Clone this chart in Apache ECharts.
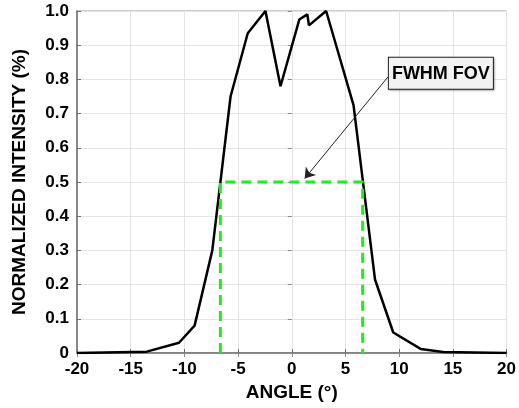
<!DOCTYPE html>
<html><head><meta charset="utf-8">
<script src="https://cdn.jsdelivr.net/npm/echarts@6/dist/echarts.min.js"></script>
<style>html,body{margin:0;padding:0;background:#fff}#c{width:519px;height:408px}</style>
</head><body><div id="c"></div>
<script>
const angles = [-20, -13.5, -10.5, -9.05, -7.4, -5.7, -4.1, -2.45, -1.05, 0.7, 1.45, 1.6, 3.2, 5.75, 7.75, 9.45, 12.0, 14.1, 20];
const intensity = [0, 0.004, 0.03, 0.08, 0.30, 0.75, 0.935, 1.0, 0.78, 0.975, 0.99, 0.958, 1.0, 0.725, 0.215, 0.06, 0.012, 0.003, 0];
const fwhmX = [-6.65, -6.65, 6.6, 6.6];
const fwhmY = [0, 0.5, 0.5, 0];
const xTicks = {min: -20, max: 20, step: 5};
const yTicks = {min: 0, max: 1, step: 0.1};
const annText = 'FWHM FOV';
const arrowFrom = [8.95, 0.807];
const arrowTo = [1.2, 0.51];
const boxAnchor = [8.95, 0.866];

const FONT = 'Liberation Sans, Arial, sans-serif';
const chart = echarts.init(document.getElementById('c'), null, {renderer: 'canvas'});
const gridCol = '#e4e4e4';
const option = {
  animation: false,
  backgroundColor: '#fff',
  grid: {left: 77, right: 7, top: 11, bottom: 55, show: true, borderColor: '#9a9a9a', borderWidth: 1},
  xAxis: [{
    type: 'value', min: xTicks.min, max: xTicks.max, interval: xTicks.step,
    name: 'ANGLE (°)', nameLocation: 'middle', nameGap: 30,
    nameTextStyle: {fontFamily: FONT, fontWeight: 'bold', fontSize: 19, color: '#000'},
    axisLine: {onZero: false, lineStyle: {color: '#6e6e6e', width: 1.5}},
    axisTick: {inside: true, length: 4, lineStyle: {color: '#6e6e6e'}},
    axisLabel: {fontFamily: FONT, fontWeight: 'bold', fontSize: 17, color: '#000', margin: 8},
    splitLine: {lineStyle: {color: gridCol}}
  }, {
    type: 'value', position: 'top', min: xTicks.min, max: xTicks.max, interval: xTicks.step,
    axisLine: {show: false}, axisTick: {inside: true, length: 4, lineStyle: {color: '#8a8a8a'}},
    axisLabel: {show: false}, splitLine: {show: false}
  }],
  yAxis: [{
    type: 'value', min: yTicks.min, max: yTicks.max, interval: yTicks.step,
    name: 'NORMALIZED INTENSITY (%)', nameLocation: 'middle', nameGap: 48,
    nameTextStyle: {fontFamily: FONT, fontWeight: 'bold', fontSize: 19, color: '#000'},
    axisLine: {show: true, onZero: false, lineStyle: {color: '#6e6e6e', width: 1.5}},
    axisTick: {show: true, inside: true, length: 4, lineStyle: {color: '#6e6e6e'}},
    axisLabel: {fontFamily: FONT, fontWeight: 'bold', fontSize: 17, color: '#000', margin: 8,
      formatter: v => v === 0 ? '0' : v.toFixed(1)},
    splitLine: {lineStyle: {color: gridCol}}
  }, {
    type: 'value', position: 'right', min: yTicks.min, max: yTicks.max, interval: yTicks.step,
    axisLine: {show: false}, axisTick: {show: true, inside: true, length: 4, lineStyle: {color: '#8a8a8a'}},
    axisLabel: {show: false}, splitLine: {show: false}
  }],
  series: [{
    type: 'line', data: angles.map((a, i) => [a, intensity[i]]),
    symbol: 'none', lineStyle: {color: '#000', width: 2.5}, z: 3
  }, {
    type: 'line', data: fwhmX.map((a, i) => [a, fwhmY[i]]),
    symbol: 'none', lineStyle: {color: '#14f514', width: 3, type: [10, 6]}, z: 4,
    markLine: {
      silent: true, symbol: ['none', 'arrow'], symbolSize: 10, label: {show: false},
      lineStyle: {color: '#222', width: 1, type: 'solid'},
      data: [[{coord: arrowFrom}, {coord: arrowTo}]]
    }
  }]
};
chart.setOption(option);
const p = chart.convertToPixel({xAxisIndex: 0, yAxisIndex: 0}, boxAnchor);
chart.setOption({
  graphic: [{
    type: 'text', left: p[0], top: p[1], z: 10,
    style: {text: annText, font: 'bold 18px ' + FONT, fill: '#000',
      backgroundColor: '#f2f2f2', borderColor: '#222', borderWidth: 1,
      padding: [7, 3, 6, 3],
      shadowColor: 'rgba(0,0,0,0.25)', shadowOffsetX: 1, shadowOffsetY: 1, shadowBlur: 2}
  }]
});
</script></body></html>
